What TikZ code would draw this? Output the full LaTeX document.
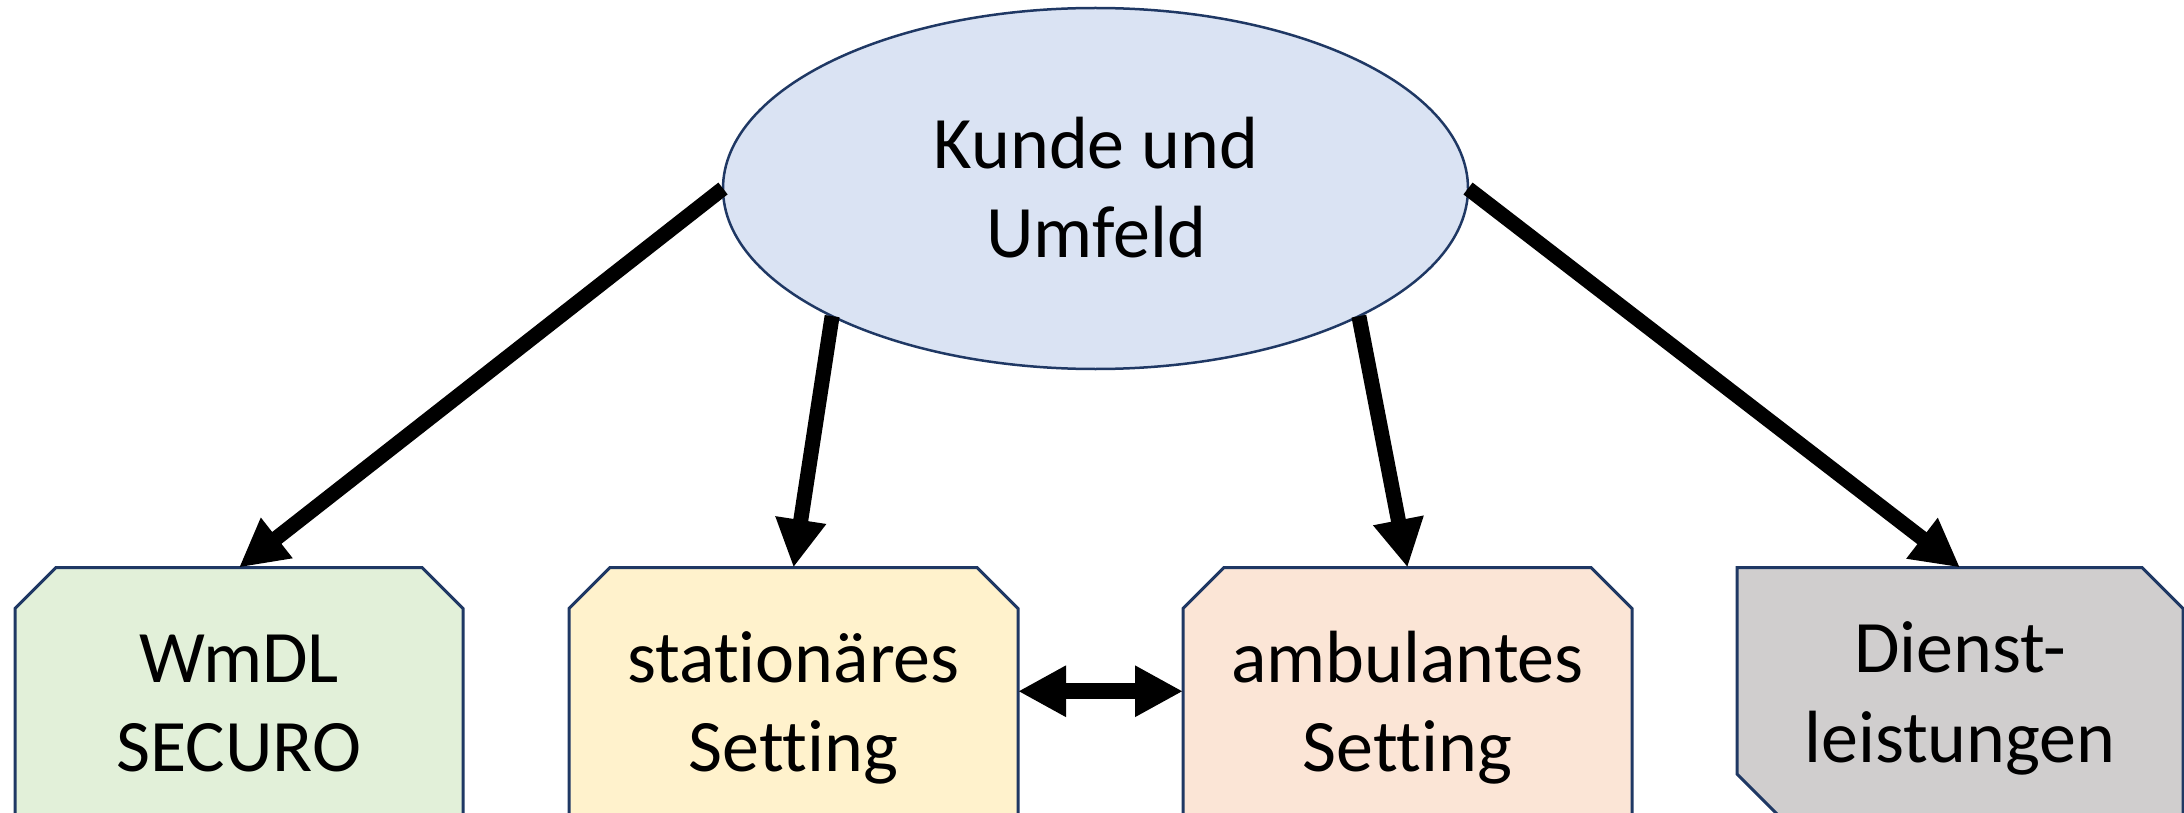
\documentclass[tikz,border=0pt]{standalone}
\usepackage{fontspec}
\setmainfont{Carlito}[Ligatures=CommonOff]
\usetikzlibrary{shapes.geometric,arrows.meta}
\definecolor{ellfill}{HTML}{DAE3F3}
\definecolor{cgreen}{HTML}{E2F0D9}
\definecolor{cyellow}{HTML}{FFF2CC}
\definecolor{corange}{HTML}{FBE5D6}
\definecolor{cgray}{HTML}{D0CECE}
\definecolor{bordercol}{HTML}{1F3864}
\tikzset{
  anchorbox/.style={rectangle, inner sep=0pt, outer sep=0pt, minimum height=247.5pt},
  boxline/.style={draw=bordercol, line width=3pt, line join=miter},
  txt/.style={inner sep=0pt, outer sep=0pt, anchor=base, font=\fontsize{74}{89}\selectfont},
  arr/.style={line width=15pt, -{Triangle[length=48pt,width=48pt]}},
  dblarr/.style={line width=16pt, {Triangle[length=48pt,width=48pt]}-{Triangle[length=48pt,width=48pt]}},
}
\begin{document}
\begin{tikzpicture}[x=1pt,y=-1pt]
\useasboundingbox (0,0) rectangle (2184,813);
% ellipse
\node[ellipse, draw=bordercol, line width=2.5pt, fill=ellfill, inner sep=0pt, outer sep=0pt,
      minimum width=745pt, minimum height=361pt] (e) at (1095.5,188.5) {};
\node[txt] (ea) at (1096,169) {Kunde und};
\node[txt] (eb) at (1096,258) {Umfeld};
% box anchors
\node[anchorbox, minimum width=448pt] (b1) at (239,691.25) {};
\node[anchorbox, minimum width=449pt] (b2) at (793.5,691.25) {};
\node[anchorbox, minimum width=449pt] (b3) at (1407.5,691.25) {};
\node[anchorbox, minimum width=446pt] (b4) at (1960,691.25) {};
% outlines
\path[boxline, fill=cgreen] (b1.south west) -- ([yshift=-41pt]b1.north west) -- ([xshift=41pt]b1.north west) -- ([xshift=-41pt]b1.north east) -- ([yshift=-41pt]b1.north east) -- (b1.south east) -- cycle;
\path[boxline, fill=cyellow] (b2.south west) -- ([yshift=-41pt]b2.north west) -- ([xshift=41pt]b2.north west) -- ([xshift=-41pt]b2.north east) -- ([yshift=-41pt]b2.north east) -- (b2.south east) -- cycle;
\path[boxline, fill=corange] (b3.south west) -- ([yshift=-41pt]b3.north west) -- ([xshift=41pt]b3.north west) -- ([xshift=-41pt]b3.north east) -- ([yshift=-41pt]b3.north east) -- (b3.south east) -- cycle;
\path[boxline, fill=cgray] ([yshift=41pt]b4.south west) -- (b4.north west) -- ([xshift=-41pt]b4.north east) -- ([yshift=-41pt]b4.north east) -- (b4.south east) -- ([xshift=41pt]b4.south west) -- cycle;
% texts
\node[txt] (t1a) at (239,682) {WmDL};
\node[txt] (t1b) at (239,771) {SECURO};
\node[txt] (t2a) at (793.5,682) {stationäres};
\node[txt] (t2b) at (793.5,771) {Setting};
\node[txt] (t3a) at (1407.5,682) {ambulantes};
\node[txt] (t3b) at (1407.5,771) {Setting};
\node[txt] (t4a) at (1960,672) {Dienst-};
\node[txt] (t4b) at (1960,762) {leistungen};
% arrows
\draw[arr] (e.west) -- (b1.north);
\draw[arr] (e.south west) -- (b2.north);
\draw[arr] (e.south east) -- (b3.north);
\draw[arr] (e.east) -- (b4.north);
\draw[dblarr] (b2.east) -- (b3.west);
\end{tikzpicture}
\end{document}
